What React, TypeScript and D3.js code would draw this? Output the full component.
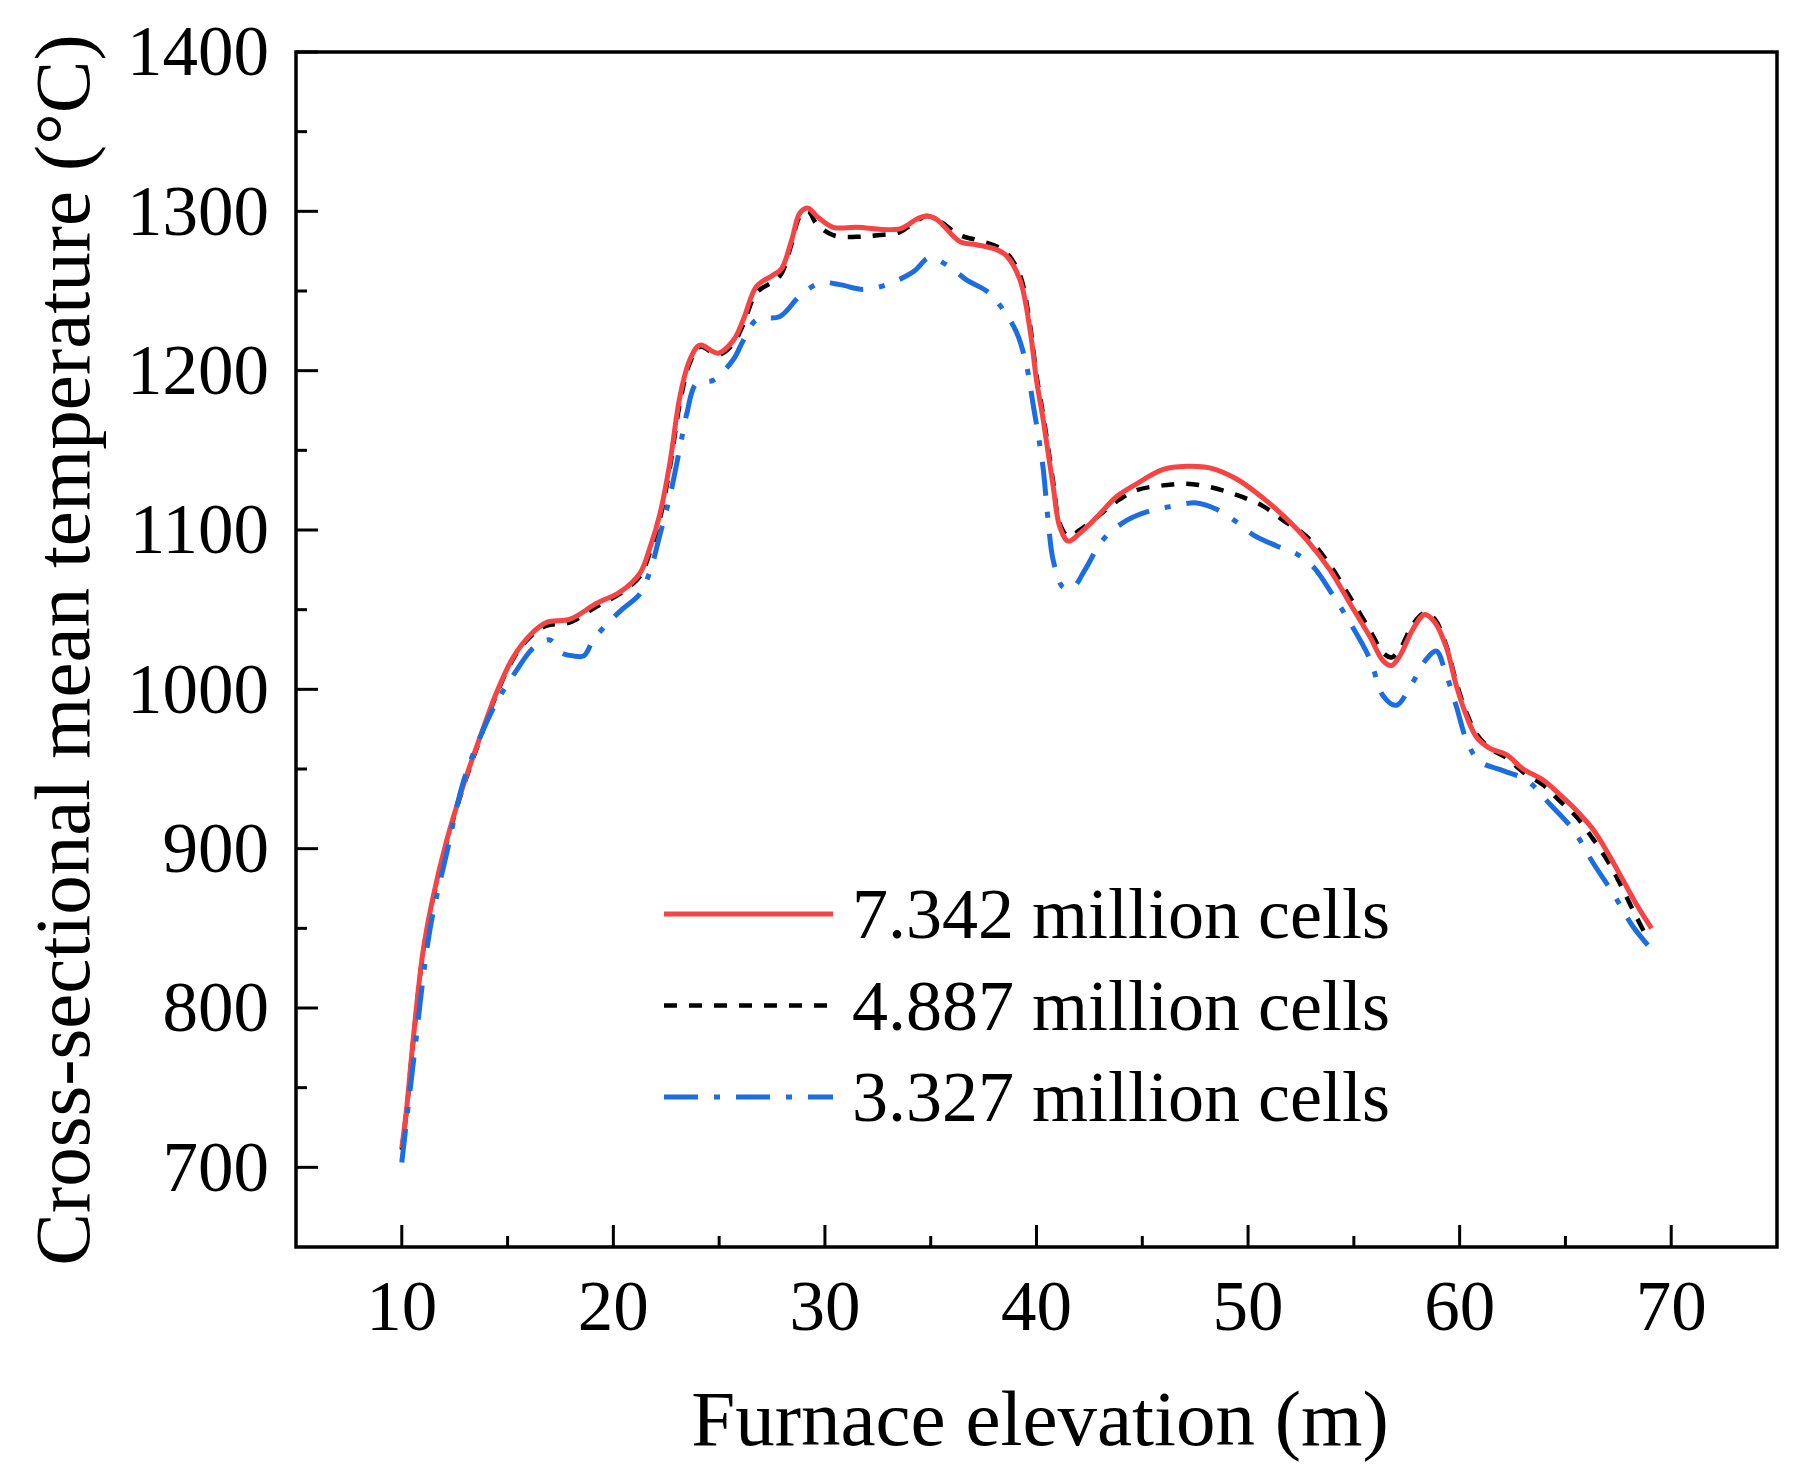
import React from 'react';
import * as d3 from 'd3';

// 7.342 million cells (red, solid)
const fineElevation = [
  10, 10.23, 10.53, 11.0, 11.47, 12.12, 12.89, 13.7, 14.48, 15.26, 16.06, 16.85, 17.95,
  19.21, 20.31, 21.26, 21.73, 22.2, 22.67, 23.15, 23.62, 24.09, 24.96, 25.67, 26.14,
  26.77, 27.56, 27.95, 28.43, 28.82, 29.21, 29.61, 30.39, 31.5, 33.54, 34.33, 34.8,
  35.28, 36.38, 37.17, 38.11, 38.59, 39.22, 39.69, 40.0, 40.32, 40.79, 41.1, 41.5,
  42.05, 42.84, 43.79, 44.73, 45.99, 47.09, 48.19, 49.46, 50.71, 51.66, 52.76, 53.87,
  54.81, 55.76, 56.38, 56.78, 57.17, 57.8, 58.35, 58.83, 59.38, 59.85, 60.33, 60.8,
  61.43, 62.21, 63.0, 63.95, 64.73, 65.52, 66.31, 67.1, 67.73, 68.36, 69.07,
];
const fineTemp = [
  712, 737, 779, 835, 869, 905, 939, 970, 998, 1020, 1034, 1042, 1044,
  1054, 1061, 1073, 1089, 1110, 1142, 1184, 1207, 1216, 1211, 1219, 1232,
  1253, 1260, 1264, 1282, 1299, 1302, 1297, 1290, 1290, 1289, 1295, 1297,
  1295, 1281, 1279, 1276, 1272, 1257, 1226, 1194, 1169, 1127, 1102, 1093,
  1098, 1108, 1121, 1129, 1138, 1140, 1139, 1132, 1120, 1109, 1094, 1075,
  1054, 1033, 1018, 1015, 1021, 1038, 1047, 1042, 1026, 1002, 983, 970,
  963, 959, 950, 943, 934, 924, 912, 895, 880, 865, 850,
];

// 4.887 million cells (black, dashed)
const mediumElevation = [
  10, 10.23, 10.53, 11.0, 11.47, 12.12, 12.89, 13.7, 14.48, 15.26, 16.06, 16.85, 17.95,
  19.21, 20.31, 21.26, 21.73, 22.2, 22.67, 23.15, 23.62, 24.09, 24.96, 25.67, 26.14,
  26.77, 27.56, 27.95, 28.43, 28.82, 29.21, 29.61, 30.39, 31.5, 32.5, 33.54, 34.33,
  34.8, 35.28, 36.38, 37.17, 38.11, 38.59, 39.22, 39.69, 40.0, 40.32, 40.79, 41.1,
  41.5, 42.05, 42.84, 43.79, 44.73, 45.99, 47.09, 48.19, 49.46, 50.71, 51.66, 52.76,
  53.87, 54.81, 55.76, 56.38, 56.78, 57.17, 57.8, 58.35, 58.83, 59.38, 59.85, 60.33,
  60.8, 61.43, 62.21, 63.0, 63.95, 64.73, 65.52, 66.31, 67.1, 67.73, 68.36, 68.95,
];
const mediumTemp = [
  711, 736, 778, 834, 868, 904, 938, 969, 997, 1019, 1033, 1040, 1042,
  1052, 1060, 1071, 1086, 1107, 1139, 1180, 1205, 1215, 1210, 1217, 1229,
  1249, 1256, 1261, 1280, 1297, 1300, 1292, 1285, 1284, 1285, 1287, 1294,
  1297, 1295, 1285, 1282, 1278, 1274, 1260, 1229, 1197, 1172, 1130, 1104,
  1096, 1100, 1108, 1118, 1125, 1128, 1129, 1127, 1122, 1115, 1106, 1096,
  1078, 1058, 1037, 1023, 1020, 1025, 1041, 1048, 1044, 1027, 1004, 985,
  972, 963, 957, 948, 940, 930, 920, 906, 890, 874, 857, 842,
];

// 3.327 million cells (blue, dash-dot)
const coarseElevation = [
  10.0, 10.54, 11.33, 12.12, 12.91, 13.7, 14.48, 15.43, 16.22, 17.0, 17.55, 18.1, 18.6,
  19.05, 19.7, 20.4, 21.26, 21.8, 22.2, 22.67, 23.15, 23.47, 23.93, 24.72, 25.67,
  26.14, 26.77, 27.87, 28.82, 29.77, 30.71, 31.81, 32.92, 34.17, 34.96, 35.9, 36.69,
  37.64, 38.27, 39.06, 39.53, 39.85, 40.16, 40.32, 40.55, 40.79, 41.26, 41.73, 42.29,
  43.15, 44.26, 45.36, 46.46, 47.57, 48.51, 49.46, 50.24, 51.35, 52.29, 53.08, 53.87,
  54.81, 55.76, 56.38, 57.0, 57.72, 58.43, 58.9, 59.3, 59.85, 60.33, 60.92, 62.05,
  63.16, 64.26, 65.36, 66.31, 67.25, 68.2, 68.99,
];
const coarseTemp = [
  703, 765, 849, 897, 942, 970, 992, 1012, 1026, 1031, 1023, 1021, 1021,
  1031, 1041, 1050, 1060, 1077, 1097, 1121, 1152, 1173, 1192, 1194, 1207,
  1219, 1232, 1234, 1247, 1255, 1254, 1251, 1254, 1262, 1271, 1265, 1257,
  1250, 1241, 1224, 1203, 1178, 1153, 1138, 1106, 1081, 1064, 1064, 1075,
  1094, 1106, 1112, 1115, 1117, 1113, 1105, 1097, 1090, 1085, 1077, 1062,
  1042, 1019, 996, 990, 1003, 1019, 1024, 1012, 989, 968, 955, 949,
  943, 928, 912, 891, 872, 851, 838,
];

const xMajorTicks = [10, 20, 30, 40, 50, 60, 70];
const xMinorTicks = [15, 25, 35, 45, 55, 65];
const yMajorTicks = [700, 800, 900, 1000, 1100, 1200, 1300, 1400];
const yMinorTicks = [750, 850, 950, 1050, 1150, 1250, 1350];

const seriesLabels = ['7.342 million cells', '4.887 million cells', '3.327 million cells'];

const W = 1803;
const H = 1476;
const plot = { left: 296, right: 1777, top: 52, bottom: 1247 };
const font = '"Liberation Serif", "Times New Roman", serif';

const RED = '#f64444';
const BLACK = '#000000';
const BLUE = '#1b6de0';

const App: React.FC = () => {
  const x = d3.scaleLinear().domain([5, 75]).range([plot.left, plot.right]);
  const y = d3.scaleLinear().domain([650, 1400]).range([plot.bottom, plot.top]);

  const line = d3
    .line<[number, number]>()
    .x(d => x(d[0]))
    .y(d => y(d[1]))
    .curve(d3.curveCatmullRom.alpha(0.5));

  const zip = (xs: number[], ys: number[]) => xs.map((v, i) => [v, ys[i]] as [number, number]);

  const series = [
    { label: seriesLabels[1], pts: zip(mediumElevation, mediumTemp), color: BLACK, width: 4.5, dash: '13 12' },
    { label: seriesLabels[0], pts: zip(fineElevation, fineTemp), color: RED, width: 5, dash: undefined },
    { label: seriesLabels[2], pts: zip(coarseElevation, coarseTemp), color: BLUE, width: 5, dash: '34 16 6 16' },
  ];

  const legendItems = [
    { label: seriesLabels[0], color: RED, width: 5, dash: undefined },
    { label: seriesLabels[1], color: BLACK, width: 4.5, dash: '13 12' },
    { label: seriesLabels[2], color: BLUE, width: 5, dash: '34 16 6 16' },
  ];

  return (
    <svg
      width={W}
      height={H}
      viewBox={`0 0 ${W} ${H}`}
      style={{ position: 'absolute', left: 0, top: 0, background: '#fff' }}
      fontFamily={font}
    >
      <rect width={W} height={H} fill="#fff" />

      {/* curves */}
      {series.map((s, i) => (
        <path
          key={i}
          d={line(s.pts) || ''}
          fill="none"
          stroke={s.color}
          strokeWidth={s.width}
          strokeDasharray={s.dash}
          strokeLinejoin="round"
        />
      ))}

      {/* frame */}
      <rect
        x={plot.left}
        y={plot.top}
        width={plot.right - plot.left}
        height={plot.bottom - plot.top}
        fill="none"
        stroke="#000"
        strokeWidth={3.5}
      />

      {/* x ticks */}
      {xMajorTicks.map(t => (
        <g key={`xm${t}`}>
          <line x1={x(t)} x2={x(t)} y1={plot.bottom} y2={plot.bottom - 22} stroke="#000" strokeWidth={3} />
          <text x={x(t)} y={1330} fontSize={71} textAnchor="middle">{t}</text>
        </g>
      ))}
      {xMinorTicks.map(t => (
        <line key={`xn${t}`} x1={x(t)} x2={x(t)} y1={plot.bottom} y2={plot.bottom - 11} stroke="#000" strokeWidth={3} />
      ))}

      {/* y ticks */}
      {yMajorTicks.map(t => (
        <g key={`ym${t}`}>
          <line x1={plot.left} x2={plot.left + 22} y1={y(t)} y2={y(t)} stroke="#000" strokeWidth={3} />
          <text x={269} y={y(t)} dy="0.33em" fontSize={71} textAnchor="end">{t}</text>
        </g>
      ))}
      {yMinorTicks.map(t => (
        <line key={`yn${t}`} x1={plot.left} x2={plot.left + 11} y1={y(t)} y2={y(t)} stroke="#000" strokeWidth={3} />
      ))}

      {/* axis titles */}
      <text x={1040} y={1445} fontSize={79} textAnchor="middle">Furnace elevation (m)</text>
      <text transform="translate(89, 650) rotate(-90)" fontSize={79} textAnchor="middle">
        Cross-sectional mean temperature (°C)
      </text>

      {/* legend */}
      {legendItems.map((s, i) => {
        const ly = 914 + i * 91.5;
        return (
          <g key={i}>
            <line x1={664} x2={833} y1={ly} y2={ly} stroke={s.color} strokeWidth={s.width} strokeDasharray={s.dash} />
            <text x={852} y={ly + 24} fontSize={72}>{s.label}</text>
          </g>
        );
      })}
    </svg>
  );
};

export default App;
